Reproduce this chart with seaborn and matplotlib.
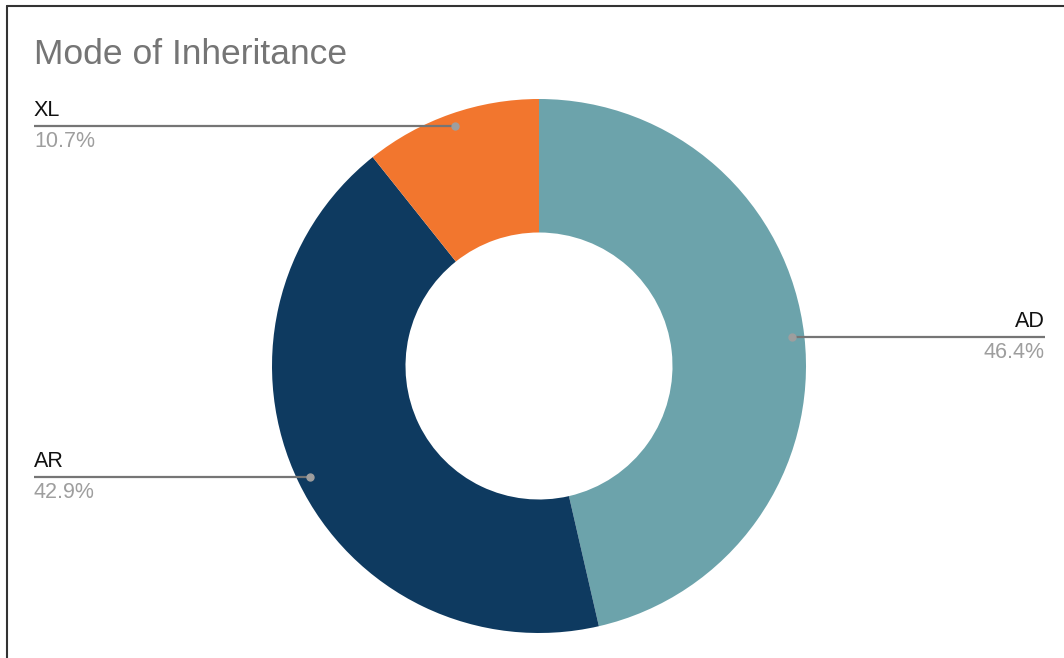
import numpy as np
import matplotlib
matplotlib.use("Agg")
import matplotlib.pyplot as plt
import seaborn as sns

categories = ["AD", "AR", "XL"]
values = [46.4, 42.9, 10.7]
colors = ["#6ca3ab", "#0e3a60", "#f2762e"]
title = "Mode of Inheritance"

sns.set_theme(style="white")
plt.rcParams['font.family'] = ['Liberation Sans', 'DejaVu Sans']

W, H = 1064, 658
fig = plt.figure(figsize=(W / 100, H / 100), dpi=100)
ax = fig.add_axes([0, 0, 1, 1])

cx, cy, R = 539, H - 366, 267
wedges, _ = ax.pie(values, colors=colors, startangle=90, counterclock=False,
                   radius=R, center=(cx, cy), frame=True,
                   wedgeprops=dict(width=R * 0.5, linewidth=0))
ax.set_xlim(0, W)
ax.set_ylim(0, H)
ax.set_aspect("equal")
ax.axis("off")

# leader lines + labels
for w, cat, val in zip(wedges, categories, values):
    ang = np.deg2rad((w.theta1 + w.theta2) / 2)
    dx, dy = cx + 0.953 * R * np.cos(ang), cy + 0.953 * R * np.sin(ang)
    if np.cos(ang) >= 0:
        xe, ha = 1045, "right"
    else:
        xe, ha = 34, "left"
    ax.plot([dx, xe], [dy, dy], color="#757575", lw=1.6, solid_capstyle="butt", zorder=3)
    ax.plot([dx], [dy], "o", color="#9e9e9e", ms=5, zorder=4)
    ax.text(xe, dy + 5, cat, ha=ha, va="bottom", fontsize=15.5, color="#111111")
    ax.text(xe, dy - 5, f"{val:.1f}%", ha=ha, va="top", fontsize=15.5, color="#9e9e9e")

fig.text(34 / W, 1 - 55 / H, title, ha="left", va="center", fontsize=25.5, color="#757575")

# border lines (top and left)
fig.add_artist(plt.Line2D([7 / W, 1], [1 - 6 / H, 1 - 6 / H], color="#333333", lw=1.5))
fig.add_artist(plt.Line2D([7 / W, 7 / W], [0, 1 - 6 / H], color="#333333", lw=1.5))

fig.savefig("out.png", dpi=100)
